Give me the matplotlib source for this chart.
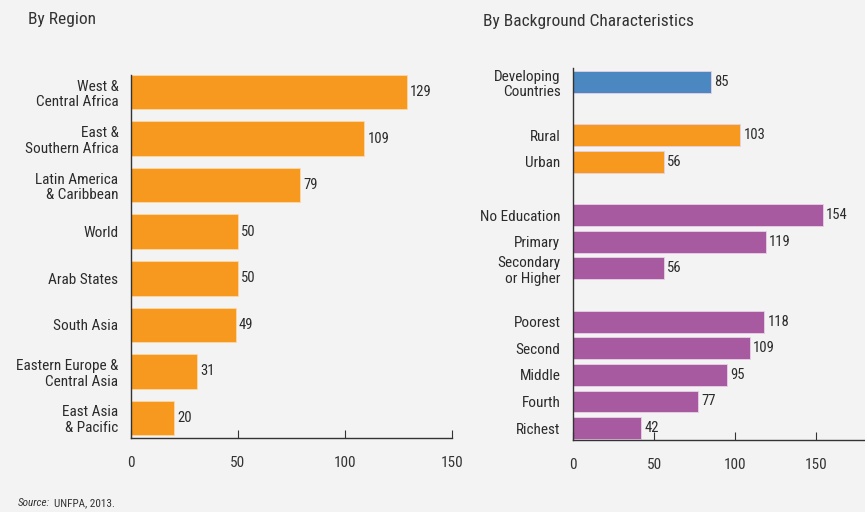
import matplotlib.pyplot as plt
from matplotlib import font_manager
import numpy as np

# pick a narrow font if one is there
names = {f.name for f in font_manager.fontManager.ttflist}
narrow = 'Lato'
for cand in ['Roboto Condensed', 'Liberation Sans Narrow', 'DejaVu Sans Condensed', 'Open Sans Condensed', 'Lato']:
    if cand in names:
        narrow = cand
        break
plt.rcParams['font.family'] = [narrow, 'DejaVu Sans']

# left panel: by region
regions = ['West &\nCentral Africa', 'East &\nSouthern Africa', 'Latin America\n& Caribbean',
           'World', 'Arab States', 'South Asia', 'Eastern Europe &\nCentral Asia', 'East Asia\n& Pacific']
region_vals = [129, 109, 79, 50, 50, 49, 31, 20]

# right panel: by background characteristics, in groups
groups = [
    (['Developing\nCountries'], [85], '#4b87c0'),
    (['Rural', 'Urban'], [103, 56], '#f7991f'),
    (['No Education', 'Primary', 'Secondary\nor Higher'], [154, 119, 56], '#a75aa0'),
    (['Poorest', 'Second', 'Middle', 'Fourth', 'Richest'], [118, 109, 95, 77, 42], '#a75aa0'),
]

orange = '#f7991f'
bg = '#f3f3f3'
txt = '#2b2b2b'

fig = plt.figure(figsize=(8.65, 5.12), dpi=100)
fig.patch.set_facecolor(bg)


def style(ax, xmax):
    ax.set_facecolor(bg)
    for s in ['top', 'right']:
        ax.spines[s].set_visible(False)
    for s in ['left', 'bottom']:
        ax.spines[s].set_color('#333333')
        ax.spines[s].set_linewidth(1.0)
    ax.set_xlim(0, xmax)
    ax.set_xticks([0, 50, 100, 150])
    ax.tick_params(axis='x', direction='in', length=6, pad=13, labelsize=11, colors='#333333')
    ax.tick_params(axis='y', length=0, pad=9, labelsize=11, colors=txt)


# left
ax1 = fig.add_axes([0.1514, 0.1445, 0.371, 0.709])
y1 = np.arange(len(regions))
ax1.barh(y1, region_vals, height=0.74, color=orange, edgecolor='#fbd9a8', linewidth=0.6)
ax1.set_yticks(y1)
ax1.set_yticklabels(regions, linespacing=1.15)
ax1.set_ylim(7.43, -0.365)
style(ax1, 150)
for y, v in zip(y1, region_vals):
    ax1.text(v + 1.5, y, str(v), va='center', ha='left', fontsize=10.5, color=txt)

# right
ax2 = fig.add_axes([0.6624, 0.1406, 0.3376, 0.7266])
pos, labels, vals, cols = [], [], [], []
p = 0
for labs, vs, c in groups:
    for l, v in zip(labs, vs):
        pos.append(p)
        labels.append(l)
        vals.append(v)
        cols.append(c)
        p += 1
    p += 1
ax2.barh(pos, vals, height=0.82, color=cols, edgecolor='#e8d0e6', linewidth=0.6)
ax2.set_yticks(pos)
ax2.set_yticklabels(labels, linespacing=1.15)
ax2.set_ylim(13.45, -0.53)
style(ax2, 180)
for y, v in zip(pos, vals):
    ax2.text(v + 2, y, str(v), va='center', ha='left', fontsize=10.5, color=txt)

fig.text(0.032, 0.962, 'By Region', fontsize=12.5, color='#333333', va='center')
fig.text(0.558, 0.958, 'By Background Characteristics', fontsize=12.5, color='#333333', va='center')
fig.text(0.021, 0.017, 'Source:', fontsize=8, style='italic', color='#333333', va='center')
fig.text(0.062, 0.017, 'UNFPA, 2013.', fontsize=8, color='#333333', va='center')

fig.savefig('out.png', dpi=100, facecolor=bg)
